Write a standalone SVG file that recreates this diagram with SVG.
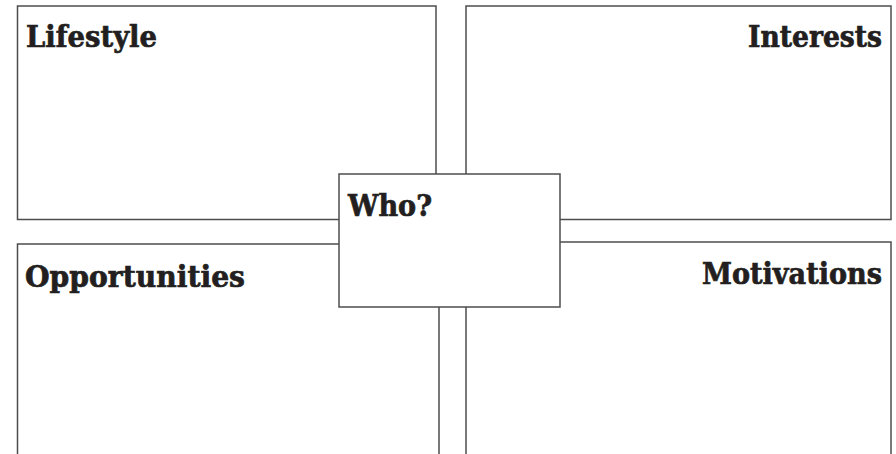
<svg xmlns="http://www.w3.org/2000/svg" width="896" height="454" viewBox="0 0 896 454">
<style>
.box{fill:#fff;stroke:#4d4d4d;stroke-width:1.5}
.lbl{font-family:"DejaVu Serif","Liberation Serif",serif;font-weight:bold;font-size:29px;fill:#231f20;stroke:#231f20;stroke-width:0.7}
</style>
<rect width="896" height="454" fill="#fff"/>
<g id="lifestyle">
<rect class="box" x="17.5" y="6" width="418.5" height="213.5"/>
<text class="lbl" x="26" y="47" textLength="131" lengthAdjust="spacingAndGlyphs">Lifestyle</text>
</g>
<g id="interests">
<rect class="box" x="466" y="6" width="425" height="213.5"/>
<text class="lbl" x="748" y="47" textLength="134" lengthAdjust="spacingAndGlyphs">Interests</text>
</g>
<g id="opportunities">
<rect class="box" x="17.5" y="244" width="421.5" height="230"/>
<text class="lbl" x="25" y="286.5" textLength="220" lengthAdjust="spacingAndGlyphs">Opportunities</text>
</g>
<g id="motivations">
<rect class="box" x="466" y="242" width="425" height="232"/>
<text class="lbl" x="702" y="284" textLength="180" lengthAdjust="spacingAndGlyphs">Motivations</text>
</g>
<g id="connectors"></g>
<g id="who">
<rect class="box" x="339" y="174" width="221" height="133"/>
<text class="lbl" x="348" y="216" textLength="84" lengthAdjust="spacingAndGlyphs">Who?</text>
</g>
</svg>
